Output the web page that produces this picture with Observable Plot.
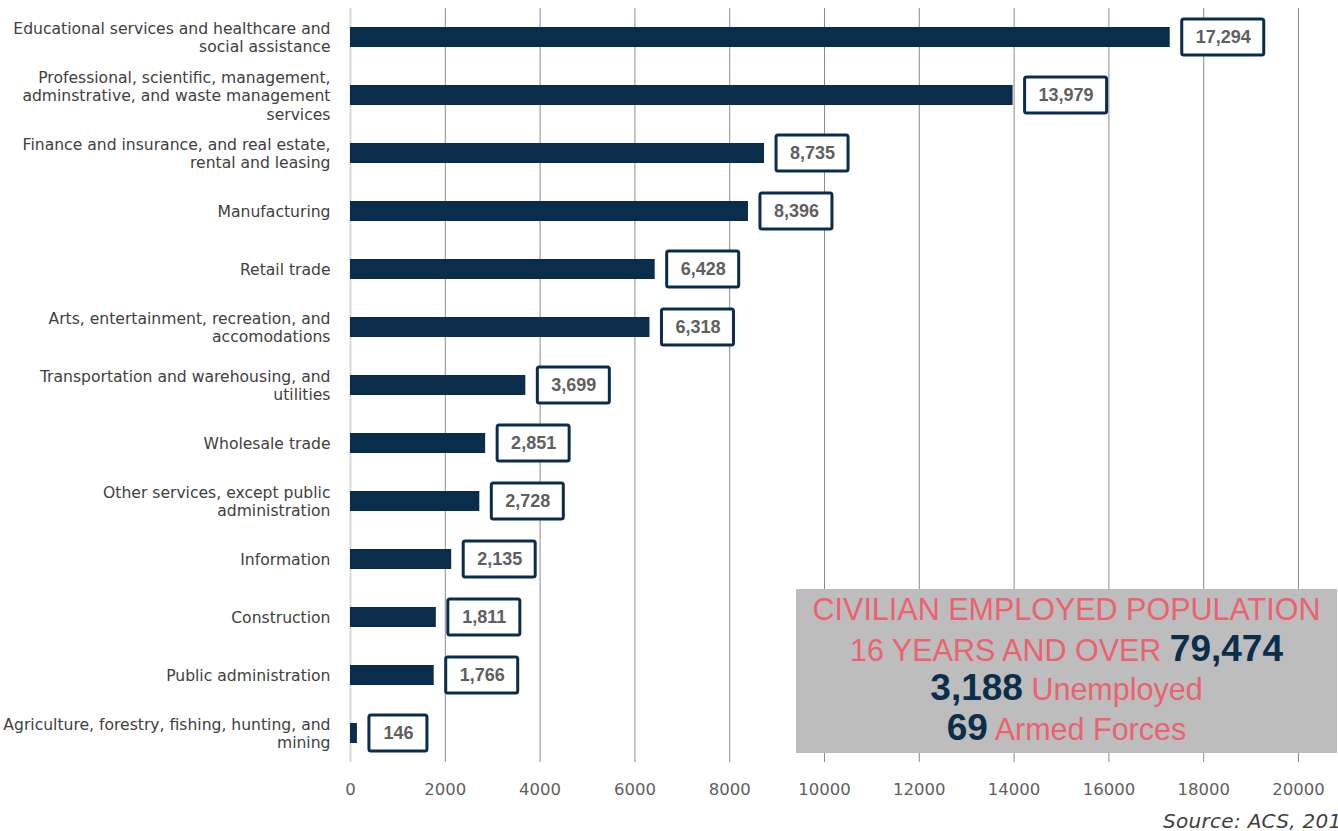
<!DOCTYPE html>
<html>
<head>
<meta charset="utf-8">
<script src="https://cdn.jsdelivr.net/npm/d3@7"></script>
<script src="https://cdn.jsdelivr.net/npm/@observablehq/plot@0.6"></script>
<style>
  html, body { margin: 0; padding: 0; background: #fff; overflow: hidden; }
  #wrap { position: relative; width: 1338px; height: 831px; overflow: hidden; }
  #callout {
    position: absolute; left: 796px; top: 589px; width: 541px; height: 164px;
    background: #bdbdbd; font-family: "Liberation Sans", Arial, sans-serif;
    text-align: center; color: #ec6270; white-space: nowrap;
  }
  #callout .ln { position: absolute; left: 0; right: 0; line-height: 40px; height: 40px; }
  #callout .t { font-size: 30.5px; }
  #callout .n { font-size: 37px; font-weight: bold; color: #0b2e4b; }
  #source {
    position: absolute; left: 1163px; top: 811px; font-family: "DejaVu Sans", sans-serif;
    font-style: italic; font-size: 20px; line-height: 20px; letter-spacing: 0.3px;
    color: #404040; white-space: nowrap;
  }
</style>
</head>
<body>
<div id="wrap">
  <div id="chart"></div>
  <div id="callout">
    <div class="ln" style="top:0px"><span class="t">CIVILIAN EMPLOYED POPULATION</span></div>
    <div class="ln" style="top:40px"><span class="t">16 YEARS AND OVER </span><span class="n">79,474</span></div>
    <div class="ln" style="top:79px"><span class="n">3,188</span><span class="t"> Unemployed</span></div>
    <div class="ln" style="top:119px"><span class="n">69</span><span class="t"> Armed Forces</span></div>
  </div>
  <div id="source">Source: ACS, 2019</div>
</div>
<script>
// ---- Data ----
const categories = [
  "Educational services and healthcare and\nsocial assistance",
  "Professional, scientific, management,\nadminstrative, and waste management\nservices",
  "Finance and insurance, and real estate,\nrental and leasing",
  "Manufacturing",
  "Retail trade",
  "Arts, entertainment, recreation, and\naccomodations",
  "Transportation and warehousing, and\nutilities",
  "Wholesale trade",
  "Other services, except public\nadministration",
  "Information",
  "Construction",
  "Public administration",
  "Agriculture, forestry, fishing, hunting, and\nmining"
];
const values = [17294, 13979, 8735, 8396, 6428, 6318, 3699, 2851, 2728, 2135, 1811, 1766, 146];
const xTicks = [0, 2000, 4000, 6000, 8000, 10000, 12000, 14000, 16000, 18000, 20000];
const gridTicks = xTicks.filter(t => t > 0);

const data = categories.map((label, i) => ({label, value: values[i]}));
const fmt = d3.format(",");

const navy = "#0a2d4b";
const gap = 12;
const boxGroups = [{len: 6, w: 82}, {len: 5, w: 72}, {len: 3, w: 58}];

const labelMarks = boxGroups.flatMap(g => {
  const sub = data.filter(d => fmt(d.value).length === g.len);
  return [
    Plot.barX(sub, {
      x1: "value", x2: "value", y: "label",
      insetLeft: gap, insetRight: -(gap + g.w), insetTop: 11, insetBottom: 11,
      fill: "white", stroke: navy, strokeWidth: 3, rx: 2
    }),
    Plot.text(sub, {
      x: "value", y: "label", text: d => fmt(d.value), dx: gap + g.w / 2, dy: 0,
      fontWeight: "bold", fontSize: 18, fill: "#5f5f5f",
      fontFamily: "Liberation Sans, Arial, sans-serif"
    })
  ];
});

const chart = Plot.plot({
  width: 1338,
  height: 831,
  marginLeft: 350,
  marginRight: 40,
  marginTop: 8,
  marginBottom: 69,
  style: {fontFamily: "DejaVu Sans, sans-serif", background: "white"},
  x: {domain: [0, 20000], axis: null},
  y: {domain: categories, padding: 0, axis: null},
  marks: [
    Plot.ruleX(gridTicks, {stroke: "#8c8c8c", strokeWidth: 1}),
    Plot.ruleX([0], {stroke: "#d9d9d9", strokeWidth: 2}),
    Plot.barX(data, {x: "value", y: "label", fill: navy, insetTop: 19, insetBottom: 19}),
    ...labelMarks,
    Plot.text(data, {
      y: "label", text: "label", frameAnchor: "left", textAnchor: "end", dx: -20,
      fontSize: 15.6, lineHeight: 1.17, fill: "#404040"
    }),
    Plot.axisX({
      ticks: xTicks, tickFormat: d3.format("d"), tickSize: 0, tickPadding: 21,
      fontSize: 16.5, color: "#5f5f5f", anchor: "bottom", label: null
    })
  ]
});
document.getElementById("chart").appendChild(chart);
</script>
</body>
</html>
